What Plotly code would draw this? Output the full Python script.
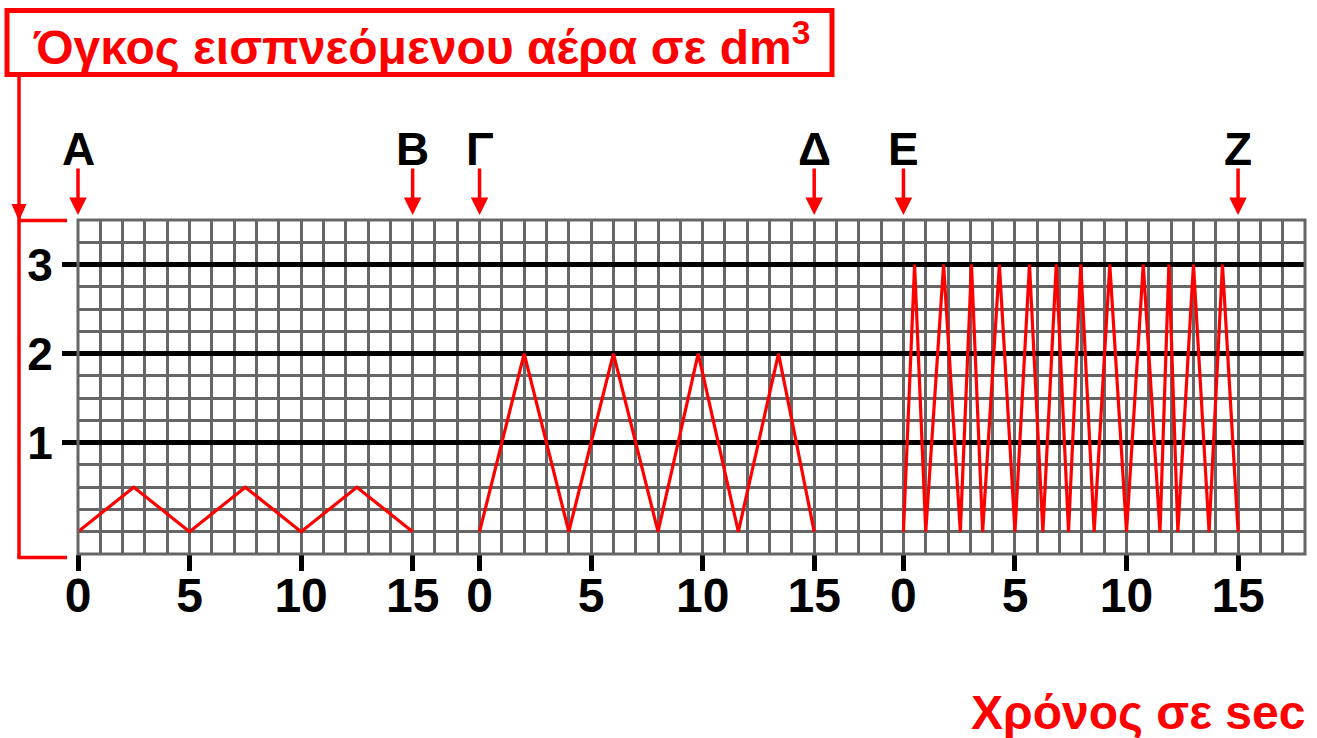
import plotly.graph_objects as go

# --- data -------------------------------------------------------------
# three recordings, each 15 s long, placed side by side on one time axis
section_starts = [0, 18, 37]
section_length = 15
section_letters = [("Α", "Β"), ("Γ", "Δ"), ("Ε", "Ζ")]
tick_steps = [0, 5, 10, 15]

# quiet breathing (Α -> Β)
rest_t = [0, 2.5, 5, 7.5, 10, 12.5, 15]
rest_v = [0, 0.5, 0, 0.5, 0, 0.5, 0]

# deep breathing (Γ -> Δ)
deep_t = [0, 2, 4, 6, 8, 9.8, 11.6, 13.4, 15]
deep_v = [0, 2, 0, 2, 0, 2, 0, 2, 0]

# fast deep breathing (Ε -> Ζ)
fast_t = [0, 0.5, 1.0, 1.8, 2.55, 3.05, 3.55, 4.3, 5.0, 5.65, 6.25, 6.85,
          7.4, 7.95, 8.55, 9.25, 10.0, 10.75, 11.5, 11.9, 12.3, 13.0, 13.7,
          14.3, 15.0]
fast_v = [0, 3, 0, 3, 0, 3, 0, 3, 0, 3, 0, 3, 0, 3, 0, 3, 0, 3, 0, 3, 0, 3,
          0, 3, 0]

y_ticks = [1, 2, 3]
x_max = 55
y_min, y_max = -0.25, 3.5

# --- styling ----------------------------------------------------------
RED = "#ff0000"
GRID = "#666666"
FONT = "Liberation Sans, Arial, sans-serif"
W, H = 1317, 738
ML, MR, MT, MB = 78, 12, 220, 184
PW, PH = W - ML - MR, H - MT - MB


def xp(px):
    """pixel column -> paper x"""
    return (px - ML) / PW


def yp(py):
    """pixel row -> paper y"""
    return (H - MB - py) / PH


fig = go.Figure()

for start, (t, v) in zip(section_starts,
                         [(rest_t, rest_v), (deep_t, deep_v), (fast_t, fast_v)]):
    fig.add_trace(go.Scatter(
        x=[start + ti for ti in t], y=v, mode="lines",
        line=dict(color=RED, width=3.2), hoverinfo="skip", showlegend=False,
    ))

tickvals = [s + k for s in section_starts for k in tick_steps]
ticktext = [str(k) for s in section_starts for k in tick_steps]

fig.update_xaxes(
    range=[0, x_max], tickvals=tickvals, ticktext=ticktext,
    showgrid=True, gridcolor=GRID, gridwidth=3,
    minor=dict(dtick=1, tick0=0, showgrid=True, gridcolor=GRID, gridwidth=3),
    ticks="outside", ticklen=16, tickwidth=5, tickcolor="black",
    ticklabelstandoff=-17,
    tickfont=dict(family=FONT, size=48, color="black", weight="bold"),
    zeroline=False, showline=False, fixedrange=True,
)
fig.update_yaxes(
    range=[y_min, y_max], tickvals=y_ticks, ticktext=[str(v) for v in y_ticks],
    showgrid=True, gridcolor="black", gridwidth=5,
    minor=dict(dtick=0.25, tick0=0, showgrid=True, gridcolor=GRID, gridwidth=3),
    ticks="outside", ticklen=15, tickwidth=5, tickcolor="black",
    tickfont=dict(family=FONT, size=46, color="black", weight="bold"),
    zeroline=False, showline=False, fixedrange=True,
)

# arrowhead pointing down at the top of the bracket
tri = "M {x0},{y0} L {x1},{y0} L {xm},{y1} Z".format(
    x0=xp(11.5), x1=xp(26.5), xm=xp(19), y0=yp(204), y1=yp(221))

shapes = [
    # outer frame of the grid
    dict(type="rect", xref="x domain", yref="y domain", x0=0, x1=1, y0=0, y1=1,
         line=dict(color=GRID, width=3), layer="above"),
    # line from the title down the volume axis, with its bracket
    dict(type="line", xref="paper", yref="paper", x0=xp(19), x1=xp(19),
         y0=yp(77), y1=yp(558), line=dict(color=RED, width=3.5)),
    dict(type="path", xref="paper", yref="paper", path=tri,
         fillcolor=RED, line=dict(color=RED, width=0)),
    dict(type="line", xref="paper", yref="paper", x0=xp(19), x1=xp(67),
         y0=yp(220.5), y1=yp(220.5), line=dict(color=RED, width=3.5)),
    dict(type="line", xref="paper", yref="paper", x0=xp(17.5), x1=xp(67),
         y0=yp(557.5), y1=yp(557.5), line=dict(color=RED, width=3.5)),
    # title frame
    dict(type="rect", xref="paper", yref="paper", x0=xp(7), x1=xp(832),
         y0=yp(10.5), y1=yp(74.5), line=dict(color=RED, width=5),
         fillcolor="white"),
]

annotations = [
    dict(text="Όγκος εισπνεόμενου αέρα σε dm<sup>3</sup>", xref="paper",
         yref="paper", x=xp(421), y=yp(44), xanchor="center", yanchor="middle",
         showarrow=False, font=dict(family=FONT, size=48, color=RED,
                                    weight="bold")),
    dict(text="Χρόνος σε sec", xref="paper", yref="paper", x=xp(1307),
         y=yp(712), xanchor="right", yanchor="middle", showarrow=False,
         font=dict(family=FONT, size=48, color=RED, weight="bold")),
]

for start, (first, last) in zip(section_starts, section_letters):
    for pos, letter in ((start, first), (start + section_length, last)):
        annotations.append(dict(
            text=letter, x=pos, xref="x", y=1, yref="paper",
            ax=0, ay=-71, standoff=5, showarrow=True, arrowhead=2,
            arrowsize=1, arrowwidth=3.5, arrowcolor=RED, height=36,
            font=dict(family=FONT, size=46, color="black", weight="bold"),
        ))

fig.update_layout(
    width=W, height=H, autosize=False,
    margin=dict(l=ML, r=MR, t=MT, b=MB, pad=0),
    plot_bgcolor="white", paper_bgcolor="white",
    shapes=shapes, annotations=annotations, showlegend=False,
)

fig.write_html("out.html")
